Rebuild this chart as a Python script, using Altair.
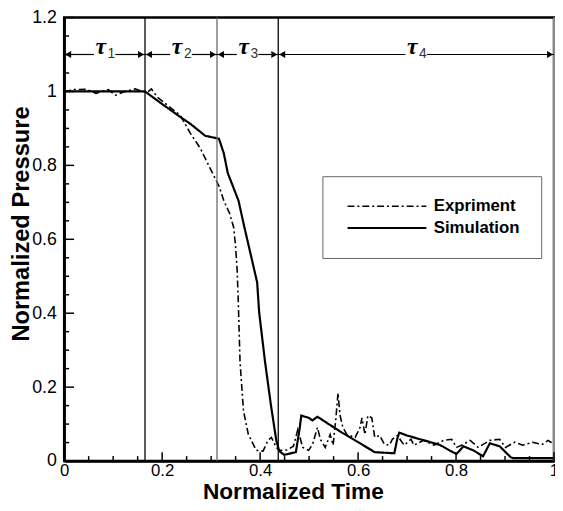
import altair as alt
import pandas as pd

# ---------------- data ----------------
series_names = ["Expriment", "Simulation"]

sim_t = [0.0, 0.165, 0.2, 0.237, 0.258, 0.288, 0.306, 0.316, 0.326, 0.334, 0.342,
         0.356, 0.368, 0.382, 0.394, 0.398, 0.410, 0.422, 0.433, 0.439, 0.449,
         0.457, 0.466, 0.473, 0.481, 0.484, 0.499, 0.507, 0.517, 0.540, 0.567,
         0.594, 0.634, 0.674, 0.680, 0.684, 0.700, 0.748, 0.768, 0.789, 0.801,
         0.815, 0.835, 0.855, 0.869, 0.889, 0.911, 0.916, 1.0]
sim_p = [1.0, 1.0, 0.966, 0.931, 0.912, 0.880, 0.875, 0.872, 0.832, 0.779, 0.752,
         0.704, 0.632, 0.552, 0.483, 0.403, 0.269, 0.152, 0.056, 0.027, 0.017,
         0.019, 0.022, 0.024, 0.091, 0.123, 0.117, 0.110, 0.120, 0.100, 0.077,
         0.056, 0.024, 0.021, 0.060, 0.077, 0.069, 0.051, 0.043, 0.027, 0.019,
         0.040, 0.029, 0.013, 0.048, 0.040, 0.011, 0.008, 0.008]

exp_t = [0.0, 0.02, 0.045, 0.065, 0.09, 0.105, 0.12, 0.145, 0.16, 0.172, 0.178,
         0.19, 0.237, 0.258, 0.278, 0.298, 0.316, 0.326, 0.338, 0.346, 0.350,
         0.353, 0.355, 0.357, 0.359, 0.366, 0.376, 0.392, 0.406, 0.416, 0.423,
         0.433, 0.439, 0.455, 0.468, 0.477, 0.487, 0.499, 0.507, 0.517, 0.523,
         0.533, 0.543, 0.549, 0.555, 0.559, 0.563, 0.569, 0.577, 0.594, 0.604,
         0.608, 0.614, 0.620, 0.628, 0.634, 0.644, 0.654, 0.664, 0.670, 0.680,
         0.694, 0.708, 0.714, 0.734, 0.755, 0.775, 0.791, 0.801, 0.815, 0.829,
         0.845, 0.869, 0.889, 0.901, 0.920, 0.936, 0.956, 0.976, 0.988, 1.0]
exp_p = [1.0, 1.005, 1.006, 0.995, 1.005, 0.99, 0.998, 1.007, 1.0, 1.0, 1.007,
         0.985, 0.935, 0.886, 0.846, 0.792, 0.744, 0.704, 0.669, 0.632, 0.579,
         0.52, 0.45, 0.36, 0.269, 0.136, 0.072, 0.029, 0.027, 0.056, 0.064,
         0.037, 0.029, 0.03, 0.04, 0.085, 0.037, 0.029, 0.045, 0.091, 0.059,
         0.037, 0.072, 0.043, 0.12, 0.184, 0.125, 0.091, 0.072, 0.064, 0.091,
         0.117, 0.072, 0.123, 0.117, 0.064, 0.069, 0.045, 0.043, 0.059, 0.069,
         0.043, 0.059, 0.043, 0.056, 0.043, 0.056, 0.059, 0.037, 0.045, 0.056,
         0.037, 0.056, 0.059, 0.037, 0.051, 0.043, 0.051, 0.045, 0.056, 0.045]

stage_bounds = [0.165, 0.312, 0.437]
stage_digits = ["1", "2", "3", "4"]
arrow_level = 1.1

x_ticks = [0, 0.2, 0.4, 0.6, 0.8, 1]
x_minor = [0.05, 0.1, 0.15, 0.25, 0.3, 0.35, 0.45, 0.5, 0.55, 0.65, 0.7, 0.75,
           0.85, 0.9, 0.95]
y_ticks = [0, 0.2, 0.4, 0.6, 0.8, 1, 1.2]
y_minor = [0.05, 0.1, 0.15, 0.25, 0.3, 0.35, 0.45, 0.5, 0.55, 0.65, 0.7, 0.75,
           0.85, 0.9, 0.95, 1.05, 1.1, 1.15]

# ---------------- layout ----------------
W, H = 497, 450
FONT = "Liberation Sans"
xs = alt.Scale(domain=[x_ticks[0], x_ticks[-1]], nice=False, zero=False)
ys = alt.Scale(domain=[y_ticks[0], y_ticks[-1]], nice=False, zero=False)

x_axis = alt.Axis(values=x_ticks, format="~g", ticks=False, grid=False,
                  domainColor="black", domainWidth=2.5,
                  labelFont=FONT, labelFontSize=17, labelColor="black",
                  labelPadding=2, labelFlush=False,
                  titleFont=FONT, titleFontSize=23, titleFontWeight="bold",
                  titleColor="black", titleX=232, titleY=38,
                  titleBaseline="alphabetic")
y_axis = alt.Axis(values=y_ticks, format="~g", ticks=False, grid=False,
                  domainColor="black", domainWidth=2.5,
                  labelFont=FONT, labelFontSize=18, labelColor="black",
                  labelPadding=8, labelFlush=False,
                  titleFont=FONT, titleFontSize=24, titleFontWeight="bold",
                  titleColor="black", titleX=-31, titleY=209)
X_TITLE = "Normalized Time"
Y_TITLE = "Normalized Pressure"


def X(field):
    return alt.X(field, scale=xs, axis=x_axis, title=X_TITLE)


def Y(field):
    return alt.Y(field, scale=ys, axis=y_axis, title=Y_TITLE)


df = pd.concat([
    pd.DataFrame({"t": exp_t, "p": exp_p, "series": series_names[0]}),
    pd.DataFrame({"t": sim_t, "p": sim_p, "series": series_names[1]}),
])

# main lines
lines = alt.Chart(df).mark_line(color="black", clip=True).encode(
    x=X("t:Q"),
    y=Y("p:Q"),
    strokeDash=alt.StrokeDash(
        "series:N",
        scale=alt.Scale(domain=series_names, range=[[7, 3, 2, 3], [1, 0]]),
        legend=alt.Legend(orient="none", legendX=262, legendY=161, title=None,
                          strokeColor="#666", fillColor="white", padding=22,
                          symbolType="M-1,0H15", symbolSize=100,
                          symbolStrokeWidth=2, symbolStrokeColor="black",
                          labelFont=FONT, labelFontWeight="bold",
                          labelFontSize=17, labelColor="black",
                          labelOffset=74, rowPadding=4)),
    strokeWidth=alt.StrokeWidth(
        "series:N", scale=alt.Scale(domain=series_names, range=[1.6, 2.2]),
        legend=None),
)

# stage boundary lines
bdf = pd.DataFrame({"t": stage_bounds, "c": ["black", "#6a6a6a", "black"]})
bounds = alt.Chart(bdf).mark_rule(strokeWidth=1.3).encode(
    x=X("t:Q"), color=alt.Color("c:N", scale=None))

right_edge = alt.Chart(pd.DataFrame({"t": [x_ticks[-1]]})).mark_rule(
    color="#8a8a8a", strokeWidth=2).encode(x=X("t:Q"))

# stage arrows
edges = [x_ticks[0]] + stage_bounds + [x_ticks[-1]]
gap = 0.022
seg_rows, head_rows, lab_rows = [], [], []
for i in range(4):
    a, b = edges[i], edges[i + 1]
    m = (a + b) / 2
    seg_rows.append({"x": a, "x2": m - gap, "y": arrow_level})
    seg_rows.append({"x": m + gap, "x2": b, "y": arrow_level})
    head_rows.append({"x": a + 0.008, "y": arrow_level, "shape": "triangle-left"})
    head_rows.append({"x": b - 0.008, "y": arrow_level, "shape": "triangle-right"})
    lab_rows.append({"x": m, "y": arrow_level, "tau": "τ", "d": stage_digits[i]})

segs = alt.Chart(pd.DataFrame(seg_rows)).mark_rule(
    color="black", strokeWidth=1.2).encode(x=X("x:Q"), x2="x2:Q", y=Y("y:Q"))
heads = alt.Chart(pd.DataFrame(head_rows)).mark_point(
    filled=True, color="black", size=50, opacity=1).encode(
    x=X("x:Q"), y=Y("y:Q"), shape=alt.Shape("shape:N", scale=None))
labdf = pd.DataFrame(lab_rows)
taus = alt.Chart(labdf).mark_text(
    font="Liberation Serif", fontStyle="italic", fontWeight="bold",
    fontSize=24, baseline="alphabetic", align="center", dx=-4, dy=-1,
    color="black").encode(x=X("x:Q"), y=Y("y:Q"), text="tau:N")
subs = alt.Chart(labdf).mark_text(
    font=FONT, fontSize=14, baseline="alphabetic", align="left", dx=3, dy=4,
    color="#333").encode(x=X("x:Q"), y=Y("y:Q"), text="d:N")


# inward ticks
def xt(vals, ln):
    return alt.Chart(pd.DataFrame({"t": vals})).mark_rule(
        color="black", strokeWidth=1.5).encode(
        x=X("t:Q"), y=alt.value(H), y2=alt.value(H - ln))


def yt(vals, ln):
    return alt.Chart(pd.DataFrame({"p": vals})).mark_rule(
        color="black", strokeWidth=1.5).encode(
        y=Y("p:Q"), x=alt.value(0), x2=alt.value(ln))


chart = alt.layer(
    lines, bounds, right_edge, segs, heads, taus, subs,
    xt(x_ticks, 9), xt(x_minor, 5), yt(y_ticks, 10), yt(y_minor, 5),
).properties(
    width=W, height=H,
    padding={"left": 57, "top": 6, "right": 1, "bottom": 47},
    autosize=alt.AutoSizeParams(type="none"),
).configure_view(stroke="black", strokeWidth=2.5)

chart.save("out.html", embed_options={"renderer": "svg", "actions": False})
